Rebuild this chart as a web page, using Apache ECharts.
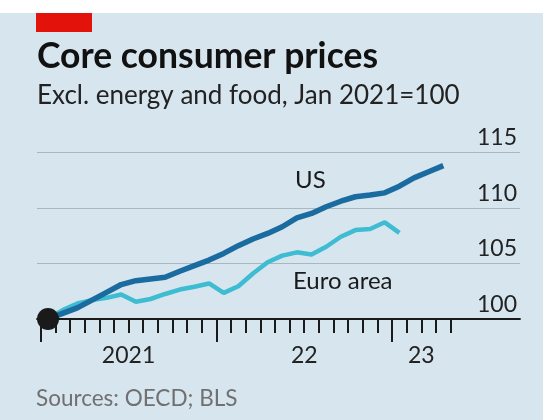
<!DOCTYPE html>
<html><head><meta charset="utf-8">
<script src="https://cdn.jsdelivr.net/npm/echarts@6/dist/echarts.min.js"></script>
<style>html,body{margin:0;padding:0;background:#fff}#c{width:543px;height:420px}</style>
</head><body><div id="c"></div>
<script>
// ---- data ----
const months = ['2021-01','2021-02','2021-03','2021-04','2021-05','2021-06','2021-07','2021-08','2021-09','2021-10','2021-11','2021-12',
                '2022-01','2022-02','2022-03','2022-04','2022-05','2022-06','2022-07','2022-08','2022-09','2022-10','2022-11','2022-12',
                '2023-01','2023-02','2023-03','2023-04'];
const usValues = [100, 100.5, 101.0, 101.7, 102.4, 103.1, 103.45, 103.6, 103.75, 104.3, 104.8, 105.3,
                  105.9, 106.6, 107.2, 107.7, 108.3, 109.1, 109.5, 110.1, 110.6, 111.0, 111.15, 111.35,
                  111.95, 112.7, 113.25, 113.8];
const euroValues = [100, 100.8, 101.4, 101.7, 101.9, 102.2, 101.55, 101.8, 102.25, 102.65, 102.9, 103.2,
                    102.35, 102.95, 104.1, 105.1, 105.7, 106.0, 105.8, 106.5, 107.4, 108.0, 108.1, 108.7,
                    107.75];
const yTicks = [100, 105, 110, 115];
const yearLabels = ['2021', '22', '23'];
const seriesNames = ['US', 'Euro area'];

// ---- derived ----
const years = [...new Set(months.map(m => m.slice(0, 4)))];
const yearCenters = years.map(y => {
  const first = months.findIndex(m => m.startsWith(y));
  let last = -1; months.forEach((m, i) => { if (m.startsWith(y)) last = i; });
  return (first + last + 1) / 2;
});
const yearStarts = years.map(y => months.findIndex(m => m.startsWith(y)));
const labelFor = {};
yearCenters.forEach((c, i) => labelFor[c] = yearLabels[i]);
const toXY = arr => arr.map((v, i) => [i + 0.5, v]);

const FONT = 'Lato';
const BG = '#d7e5ee';
const chart = echarts.init(document.getElementById('c'), null, {renderer: 'canvas'});
const gTop = 152.3, gBottom = 420 - 319, gLeft = 40.7, monthW = 14.64;
const gRight = 543 - (gLeft + monthW * months.length);

chart.setOption({
  backgroundColor: BG,
  animation: false,
  title: [
    {text: 'Core consumer prices', left: 32, top: 33.8,
     textStyle: {fontFamily: FONT, fontWeight: 'bold', fontSize: 35.5, color: '#111'}},
    {text: 'Excl. energy and food, Jan 2021=100', left: 32, top: 77.5,
     textStyle: {fontFamily: FONT, fontWeight: 'normal', fontSize: 26, color: '#222'}},
    {text: 'Sources: OECD; BLS', left: 31, top: 382.5,
     textStyle: {fontFamily: FONT, fontWeight: 'normal', fontSize: 22.5, color: '#707070'}}
  ],
  graphic: [
    {type: 'rect', shape: {x: 0, y: 0, width: 543, height: 13}, style: {fill: '#ffffff'}, silent: true},
    {type: 'rect', shape: {x: 36, y: 13, width: 56, height: 19}, style: {fill: '#e3120b'}, silent: true},
    {type: 'text', x: 295, y: 168, style: {text: seriesNames[0], font: '24px ' + FONT, fill: '#1a1a1a'}, z: 10},
    {type: 'text', x: 293, y: 269, style: {text: seriesNames[1], font: '24px ' + FONT, fill: '#1a1a1a'}, z: 10}
  ],
  grid: [
    {left: gLeft, right: gRight, top: gTop, bottom: gBottom},
    {left: 37, right: 23, top: gTop, bottom: gBottom}
  ],
  xAxis: [
    {type: 'value', gridIndex: 0, position: 'bottom', min: 0, max: months.length, interval: 1,
     axisLine: {show: false}, splitLine: {show: false},
     axisTick: {show: true, length: 14, lineStyle: {color: '#1a1a1a', width: 2}},
     axisLabel: {show: true, customValues: yearCenters, formatter: v => labelFor[v] || '',
       margin: 25, fontFamily: FONT, fontSize: 23, color: '#222'}},
    {type: 'value', gridIndex: 0, position: 'bottom', offset: 0, min: 0, max: months.length, interval: 1,
     axisLine: {show: false}, splitLine: {show: false}, axisLabel: {show: false},
     axisTick: {show: true, customValues: yearStarts, length: 23, lineStyle: {color: '#1a1a1a', width: 2}}},
    {type: 'value', gridIndex: 1, position: 'bottom', min: 0, max: 1,
     axisLine: {show: true, lineStyle: {color: '#1a1a1a', width: 1.8}},
     axisTick: {show: false}, axisLabel: {show: false}, splitLine: {show: false}}
  ],
  yAxis: [
    {type: 'value', gridIndex: 0, min: yTicks[0], max: yTicks[yTicks.length - 1], interval: 5,
     show: false},
    {type: 'value', gridIndex: 1, min: yTicks[0], max: yTicks[yTicks.length - 1], interval: 5,
     position: 'right', axisLine: {show: false}, axisTick: {show: false},
     splitLine: {show: true, lineStyle: {color: '#a9b7c0', width: 1.2}},
     axisLabel: {inside: true, margin: 3, align: 'right', verticalAlign: 'bottom', padding: [0, 0, 3, 0],
       fontFamily: FONT, fontSize: 23, color: '#222'}}
  ],
  series: [
    {name: seriesNames[0], type: 'line', xAxisIndex: 0, yAxisIndex: 0, data: toXY(usValues),
     symbol: 'none', lineStyle: {color: '#1a6b9f', width: 5.5}, z: 3},
    {name: seriesNames[1], type: 'line', xAxisIndex: 0, yAxisIndex: 0, data: toXY(euroValues),
     symbol: 'none', lineStyle: {color: '#3ebcd2', width: 4.5}, z: 2},
    {type: 'scatter', xAxisIndex: 0, yAxisIndex: 0, data: [[0.5, usValues[0]]],
     symbolSize: 22, itemStyle: {color: '#1a1a1a', opacity: 1}, z: 5}
  ]
});
</script>
</body></html>
